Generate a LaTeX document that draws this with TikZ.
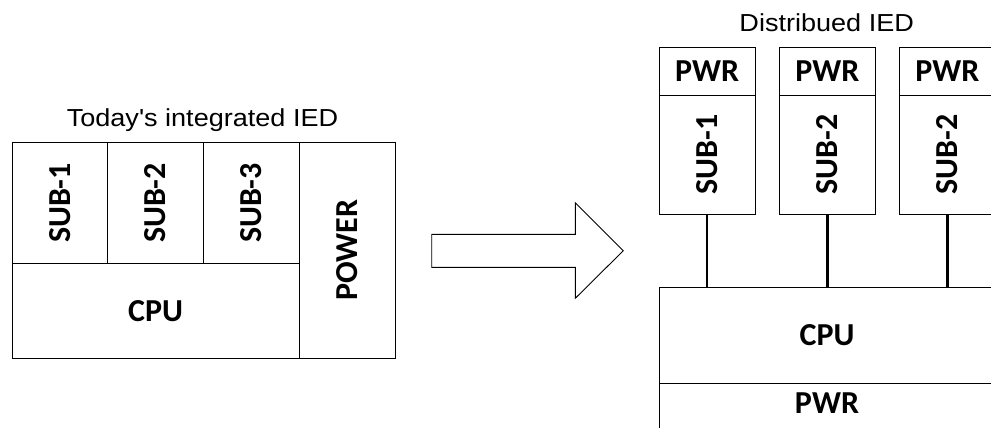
\documentclass[tikz,border=0pt]{standalone}
\usepackage{fontspec}
\setmainfont{Carlito}
\newfontfamily\titlefont[FakeStretch=1.1]{Liberation Sans}
\begin{document}
\begin{tikzpicture}[x=1pt,y=-1pt,
  cell/.style={draw=black, line width=0.9pt, rectangle, inner sep=0pt, anchor=center,
    font=\fontsize{32}{36}\selectfont\bfseries},
  ttl/.style={font=\titlefont\fontsize{24.6}{28}\selectfont, anchor=base, inner sep=0pt},
  conn/.style={draw=black, line width=2.6pt},
  bigarrow/.style={draw=black, line width=0.9pt, fill=white, line join=miter}]
\useasboundingbox (0,0) rectangle (991,428);
\clip (0,0) rectangle (991,428);
% left: integrated IED
\node[ttl] (t1) at (202.5,126.7) {Today's integrated IED};
\node[cell, minimum width=95.3, minimum height=120.6] (sub1) at (59.65,203) {\rotatebox{90}{SUB-1}};
\node[cell, minimum width=96, minimum height=120.6] (sub2) at (155.3,203) {\rotatebox{90}{SUB-2}};
\node[cell, minimum width=96, minimum height=120.6] (sub3) at (251.3,203) {\rotatebox{90}{SUB-3}};
\node[cell, minimum width=287.3, minimum height=94.7] (cpu) at (155.65,310.65) {CPU};
\node[cell, minimum width=96.4, minimum height=215.3] (power) at (347.5,250.35) {\rotatebox{90}{POWER}};
% arrow
\draw[bigarrow] (431.7,234.3) -- (575.3,234.3) -- (575.3,202.7) -- (623.3,250.7)
  -- (575.3,298.3) -- (575.3,267.3) -- (431.7,267.3) -- cycle;
% right: distributed IED
\node[ttl] (t2) at (826.7,31.7) {Distribued IED};
\node[cell, minimum width=96.3, minimum height=47.7] (p1) at (707.15,71.15) {PWR};
\node[cell, minimum width=96.3, minimum height=119.3] (s1) at (707.15,154.65) {\rotatebox{90}{SUB-1}};
\node[cell, minimum width=96, minimum height=47.7] (p2) at (827.3,71.15) {PWR};
\node[cell, minimum width=96, minimum height=119.3] (s2) at (827.3,154.65) {\rotatebox{90}{SUB-2}};
\node[cell, minimum width=96, minimum height=47.7] (p3) at (947.3,71.15) {PWR};
\node[cell, minimum width=96, minimum height=119.3] (s3) at (947.3,154.65) {\rotatebox{90}{SUB-2}};
\node[cell, minimum width=336, minimum height=96] (cpu2) at (827,335.3) {CPU};
\node[cell, minimum width=336, minimum height=48.7, text depth=8.7pt] (pb) at (827,407.65) {PWR};
\draw[conn] (s1.south) -- (s1.south |- cpu2.north);
\draw[conn] (s2.south) -- (s2.south |- cpu2.north);
\draw[conn] (s3.south) -- (s3.south |- cpu2.north);
\end{tikzpicture}
\end{document}
